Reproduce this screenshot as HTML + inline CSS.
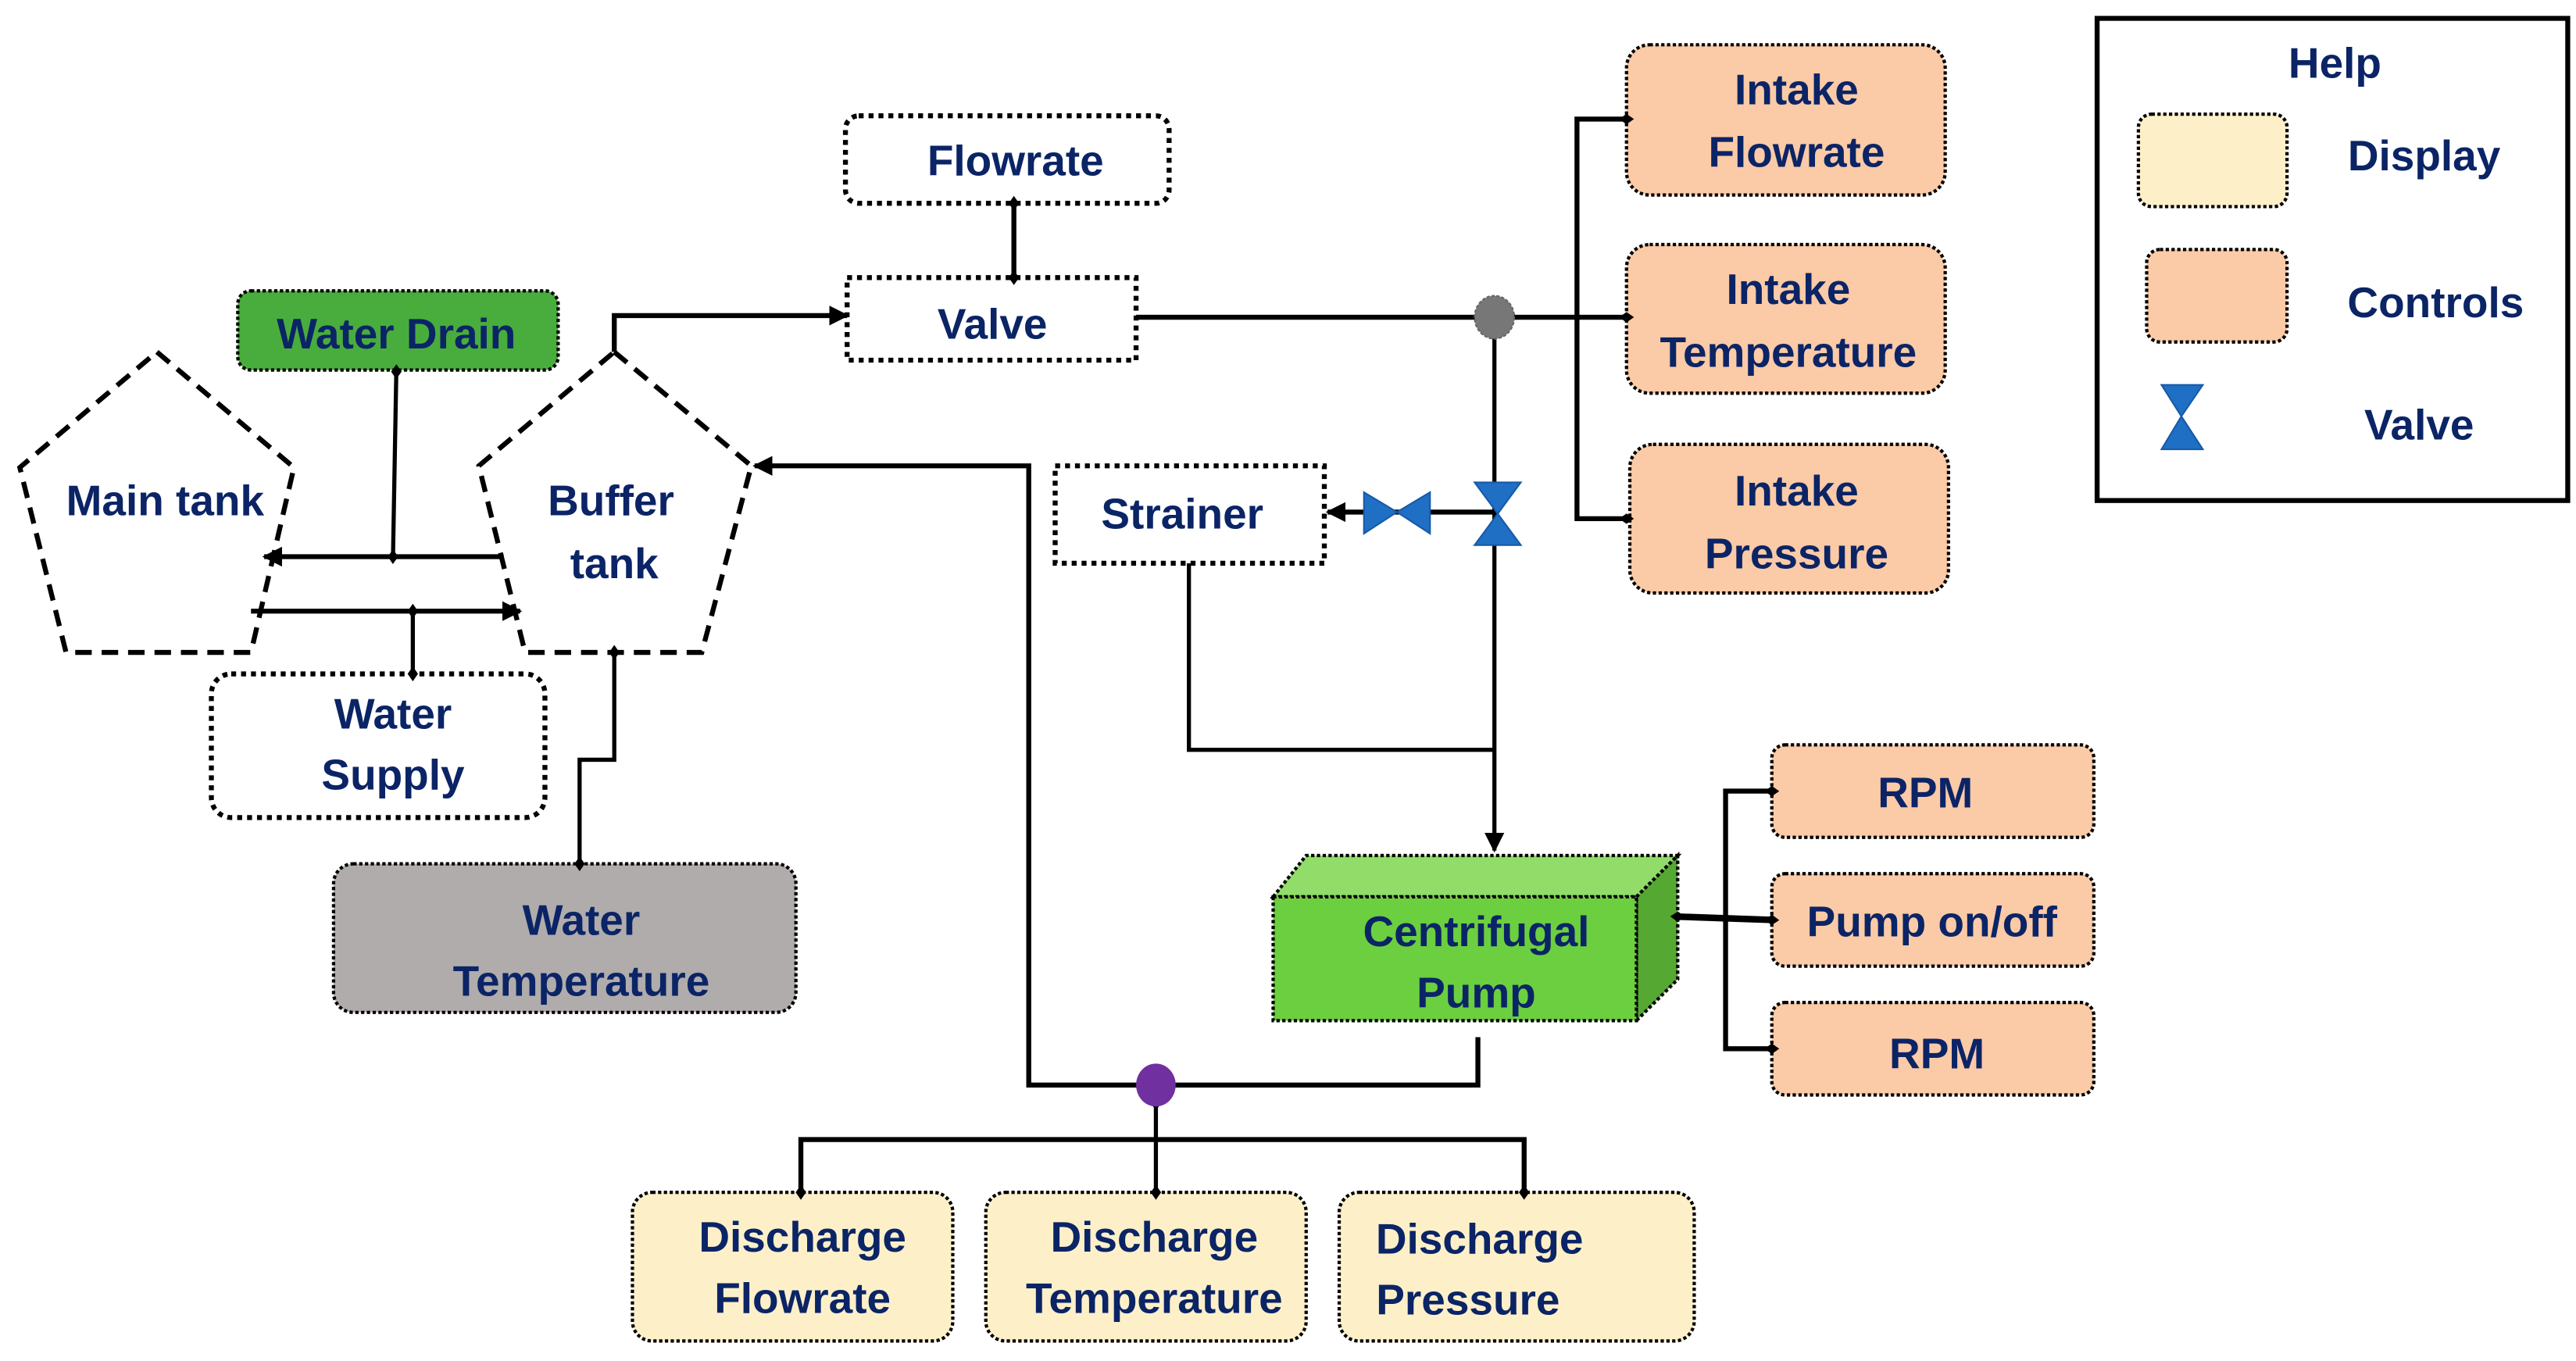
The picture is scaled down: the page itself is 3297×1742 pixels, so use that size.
<!DOCTYPE html>
<html><head><meta charset="utf-8"><style>
html,body{margin:0;padding:0;background:#fff;}
svg{display:block;}
text{font-family:"Liberation Sans",sans-serif;font-weight:bold;fill:#0b2466;font-size:26px;text-anchor:middle;dominant-baseline:central;}
</style></head><body>
<svg width="3297" height="1742" viewBox="0 0 1560 824" xmlns="http://www.w3.org/2000/svg">
<defs>
<marker id="d" viewBox="0 0 10 10" refX="5" refY="5" markerWidth="9" markerHeight="9" markerUnits="userSpaceOnUse" orient="auto"><path d="M0 5 L5 1.5 L10 5 L5 8.5Z" fill="#000"/></marker>
<marker id="a" viewBox="0 0 10 10" refX="9" refY="5" markerWidth="12" markerHeight="12" markerUnits="userSpaceOnUse" orient="auto"><path d="M0 0 L10 5 L0 10Z" fill="#000"/></marker>
</defs>
<g fill="none" stroke="#000" stroke-width="3">
<rect x="512" y="70" width="196" height="53" rx="8" stroke-dasharray="3 3"/>
<rect x="513" y="168" width="175" height="50" stroke-dasharray="3 3"/>
<rect x="639" y="282" width="163" height="59" stroke-dasharray="3 3"/>
<rect x="128" y="408" width="202" height="87" rx="12" stroke-dasharray="3 3"/>
<polygon points="95,213 178,283 152,395 40,395 12,283" stroke-dasharray="10 6"/>
<polygon points="372,213 455,282 425,395 318,395 290,282" stroke-dasharray="10 6"/>
</g>
<g stroke="#000" stroke-width="2" stroke-dasharray="2 1.5">
<rect x="144" y="176" width="194" height="48" rx="8" fill="#48ad3c"/>
<rect x="202" y="523" width="280" height="90" rx="12" fill="#b0acab"/>
<rect x="985" y="27" width="193" height="91" rx="14" fill="#fbcaa6"/>
<rect x="985" y="148" width="193" height="90" rx="14" fill="#fbcaa6"/>
<rect x="987" y="269" width="193" height="90" rx="14" fill="#fbcaa6"/>
<rect x="1073" y="451" width="195" height="56" rx="8" fill="#fbcaa6"/>
<rect x="1073" y="529" width="195" height="56" rx="8" fill="#fbcaa6"/>
<rect x="1073" y="607" width="195" height="56" rx="8" fill="#fbcaa6"/>
<rect x="383" y="722" width="194" height="90" rx="12" fill="#fdf0c9"/>
<rect x="597" y="722" width="194" height="90" rx="12" fill="#fdf0c9"/>
<rect x="811" y="722" width="215" height="90" rx="12" fill="#fdf0c9"/>
<rect x="1295" y="69" width="90" height="56" rx="8" fill="#fdf0c9"/>
<rect x="1300" y="151" width="85" height="56" rx="8" fill="#fbcaa6"/>
<polygon points="771,543 791,518 1016,518 991,543" fill="#92dc6a"/>
<polygon points="991,543 1016,518 1016,593 991,618" fill="#55a831"/>
<rect x="771" y="543" width="220" height="75" fill="#6bcf3f"/>
</g>
<rect x="1270" y="11" width="285" height="292" fill="none" stroke="#000" stroke-width="3"/>
<g fill="none" stroke="#000" stroke-width="3">
<line x1="614" y1="123" x2="614" y2="168" marker-start="url(#d)" marker-end="url(#d)"/>
<polyline points="240,225 238,337" marker-start="url(#d)" marker-end="url(#d)" stroke-width="2.5"/>
<line x1="305" y1="337" x2="160" y2="337" marker-end="url(#a)"/>
<line x1="152" y1="370" x2="315" y2="370" marker-end="url(#a)"/>
<line x1="250" y1="370" x2="250" y2="408" marker-start="url(#d)" marker-end="url(#d)" stroke-width="2.5"/>
<polyline points="372,395 372,460 351,460 351,523" marker-start="url(#d)" marker-end="url(#d)" stroke-width="2.5"/>
<polyline points="372,213 372,191 513,191" marker-end="url(#a)"/>
<line x1="688" y1="192" x2="895" y2="192"/>
<line x1="915" y1="192" x2="985" y2="192" marker-start="url(#d)" marker-end="url(#d)"/>
<polyline points="985,72 955,72 955,314 985,314" marker-start="url(#d)" marker-end="url(#d)"/>
<line x1="905" y1="205" x2="905" y2="515" marker-end="url(#a)" stroke-width="2.5"/>
<line x1="907" y1="310" x2="804" y2="310" marker-end="url(#a)"/>
<polyline points="720,341 720,454 905,454" stroke-width="2.5"/>
<polyline points="895,628 895,657 623,657 623,282 457,282" marker-end="url(#a)"/>
<line x1="700" y1="668" x2="700" y2="722" marker-start="url(#d)" marker-end="url(#d)" stroke-width="2.5"/>
<polyline points="485,722 485,690 923,690 923,722" marker-start="url(#d)" marker-end="url(#d)"/>
<line x1="1016" y1="555" x2="1073" y2="557" marker-start="url(#d)" marker-end="url(#d)" stroke-width="4"/>
<polyline points="1073,479 1045,479 1045,635 1073,635" marker-start="url(#d)" marker-end="url(#d)"/>
</g>
<ellipse cx="905" cy="192" rx="12" ry="13" fill="#777" stroke="#666" stroke-dasharray="2 1"/>
<ellipse cx="700" cy="657" rx="12" ry="13" fill="#7030a0"/>
<g fill="#1f6fc5" stroke="#175aa8" stroke-width="1">
<polygon points="893,292 921,292 907,311"/><polygon points="893,330 921,330 907,311"/>
<polygon points="826,298 826,323 846,310"/><polygon points="866,298 866,323 846,310"/>
<polygon points="1309,233 1334,233 1321,252"/><polygon points="1309,272 1334,272 1321,252"/>
</g>
<text x="615" y="97">Flowrate</text>
<text x="601" y="196">Valve</text>
<text x="240" y="202">Water Drain</text>
<text x="100" y="303">Main tank</text>
<text x="370" y="303">Buffer</text><text x="372" y="341">tank</text>
<text x="238" y="432">Water</text><text x="238" y="469">Supply</text>
<text x="352" y="557">Water</text><text x="352" y="594">Temperature</text>
<text x="716" y="311">Strainer</text>
<text x="1088" y="54">Intake</text><text x="1088" y="92">Flowrate</text>
<text x="1083" y="175">Intake</text><text x="1083" y="213">Temperature</text>
<text x="1088" y="297">Intake</text><text x="1088" y="335">Pressure</text>
<text x="894" y="564">Centrifugal</text><text x="894" y="601">Pump</text>
<text x="1166" y="480">RPM</text>
<text x="1170" y="558">Pump on/off</text>
<text x="1173" y="638">RPM</text>
<text x="486" y="749">Discharge</text><text x="486" y="786">Flowrate</text>
<text x="699" y="749">Discharge</text><text x="699" y="786">Temperature</text>
<text x="896" y="750">Discharge</text><text x="889" y="787">Pressure</text>
<text x="1414" y="38">Help</text>
<text x="1468" y="94">Display</text>
<text x="1475" y="183">Controls</text>
<text x="1465" y="257">Valve</text>
</svg>
</body></html>
